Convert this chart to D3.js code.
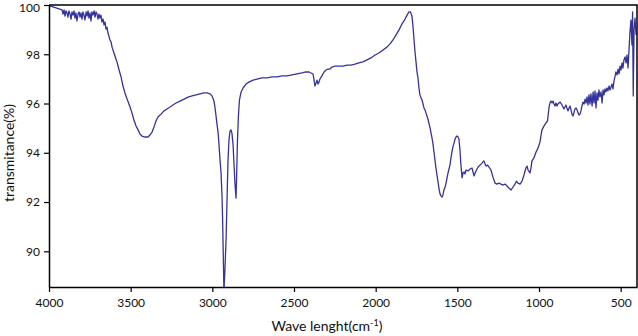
<!DOCTYPE html>
<html>
<head>
<meta charset="utf-8">
<script src="https://cdn.jsdelivr.net/npm/d3@7"></script>
<style>
  body { margin: 0; background: #fff; }
  text { font-family: Lato, "Liberation Sans", sans-serif; }
</style>
</head>
<body>
<script>
// wavenumber (cm-1)
var wavenumber = [
  3994,3976,3957,3939,3920,3914,3908,3902,3896,3890,3884,3878,3871,3865,3859,3853,3847,3841,3835,3829,
  3822,3816,3810,3804,3798,3792,3786,3780,3773,3767,3761,3755,3749,3743,3737,3731,3724,3718,3712,3706,
  3700,3694,3688,3682,3676,3669,3663,3657,3651,3645,3639,3633,3627,3620,3614,3602,3590,3584,3571,3559,
  3547,3535,3522,3504,3492,3480,3467,3455,3443,3431,3412,3394,3382,3369,3357,3345,3333,3314,3296,3278,
  3259,3241,3222,3198,3173,3149,3124,3100,3076,3051,3033,3014,3002,2990,2984,2978,2971,2965,2959,2953,
  2947,2941,2937,2933,2929,2923,2916,2910,2904,2898,2892,2886,2880,2873,2867,2861,2855,2851,2846,2840,
  2834,2824,2812,2794,2776,2751,2727,2696,2665,2635,2604,2573,2543,2512,2482,2451,2427,2408,2396,2384,
  2378,2372,2365,2359,2353,2347,2341,2329,2316,2304,2292,2280,2267,2249,2224,2200,2176,2151,2127,2102,
  2078,2053,2029,2004,1980,1955,1931,1912,1894,1876,1857,1839,1820,1808,1796,1787,1778,1772,1765,1759,
  1753,1747,1741,1735,1729,1722,1716,1710,1704,1698,1692,1686,1680,1674,1667,1661,1655,1649,1643,1637,
  1631,1625,1618,1612,1606,1600,1594,1588,1582,1575,1569,1563,1557,1551,1545,1539,1533,1527,1520,1514,
  1508,1502,1496,1490,1484,1478,1471,1465,1459,1453,1447,1435,1422,1410,1404,1398,1386,1373,1361,1349,
  1337,1330,1324,1315,1306,1294,1282,1269,1257,1245,1233,1220,1208,1196,1184,1171,1159,1147,1138,1129,
  1116,1104,1092,1080,1073,1067,1055,1049,1043,1031,1018,1006,994,982,969,957,948,939,933,927,
  920,914,908,902,896,890,884,871,859,853,847,841,835,829,822,816,810,804,798,792,
  786,780,773,767,761,755,749,743,737,731,724,718,712,706,700,694,688,682,675,669,
  663,657,651,645,639,633,627,620,614,608,602,596,590,584,578,571,565,559,553,547,
  541,535,529,522,516,510,504,498,492,486,480,473,467,461,455,449,443,437,431,427,
  423,418,412,406
];

// transmittance (%) at each wavenumber
var transmittance = [
  99.96,99.92,99.88,99.84,99.80,99.63,99.80,99.55,99.76,99.68,99.51,99.76,99.63,99.43,99.72,99.59,99.76,99.47,99.68,99.35,
  99.63,99.72,99.51,99.68,99.43,99.72,99.59,99.39,99.72,99.55,99.76,99.47,99.68,99.35,99.72,99.59,99.76,99.51,99.72,99.63,
  99.43,99.63,99.47,99.59,99.31,99.43,99.19,99.31,99.02,99.10,98.86,98.74,98.58,98.50,98.29,98.05,97.81,97.69,97.36,97.08,
  96.71,96.43,96.18,95.86,95.62,95.33,95.09,94.93,94.76,94.68,94.64,94.64,94.72,94.84,95.05,95.29,95.45,95.57,95.70,95.78,
  95.86,95.94,96.02,96.10,96.18,96.26,96.31,96.35,96.39,96.43,96.43,96.39,96.31,96.10,95.86,95.53,95.13,94.84,94.32,93.71,
  93.22,92.29,91.27,89.85,88.40,89.24,90.46,92.08,93.71,94.52,94.88,94.93,94.80,94.32,93.50,92.69,92.16,93.10,94.52,95.53,
  96.14,96.47,96.63,96.79,96.87,96.95,96.99,97.04,97.04,97.08,97.08,97.12,97.12,97.16,97.20,97.24,97.28,97.28,97.24,97.20,
  97.00,96.71,96.83,96.95,96.79,96.87,97.00,97.12,97.28,97.36,97.40,97.40,97.48,97.52,97.52,97.52,97.56,97.56,97.60,97.65,
  97.69,97.77,97.85,97.97,98.05,98.17,98.29,98.42,98.58,98.78,98.99,99.23,99.43,99.59,99.72,99.72,99.55,99.19,98.58,98.09,
  97.69,97.28,97.04,96.63,96.35,96.22,96.14,95.98,95.82,95.74,95.62,95.49,95.37,95.21,95.01,94.80,94.60,94.36,94.03,93.71,
  93.38,93.10,92.81,92.53,92.33,92.25,92.20,92.29,92.49,92.61,92.77,92.98,93.18,93.34,93.50,93.79,94.03,94.24,94.40,94.56,
  94.64,94.68,94.64,94.56,94.11,93.50,92.98,93.18,93.22,93.14,93.30,93.26,93.34,93.38,93.22,93.06,93.26,93.42,93.50,93.58,
  93.67,93.54,93.46,93.50,93.42,93.30,93.01,92.77,92.73,92.77,92.73,92.69,92.73,92.65,92.57,92.49,92.61,92.73,92.85,92.77,
  92.73,92.85,93.10,93.38,93.46,93.30,93.18,93.38,93.67,93.79,94.03,94.19,94.44,94.93,95.09,95.21,95.29,95.82,96.02,96.10,
  96.02,96.10,95.98,95.90,96.02,95.90,95.98,96.06,95.94,95.86,95.78,95.86,95.94,95.82,95.70,95.82,95.90,95.74,95.57,95.49,
  95.62,95.78,95.82,95.74,95.62,95.53,95.57,95.70,95.90,96.06,95.98,96.18,96.02,96.27,95.94,96.35,95.98,96.39,95.90,96.47,
  96.02,96.51,95.82,96.43,96.14,96.55,96.27,96.47,96.02,96.55,96.35,96.59,96.47,96.63,96.51,96.71,96.55,96.67,96.79,96.59,
  96.91,97.08,97.28,97.16,97.40,97.20,97.52,97.36,97.65,97.44,97.77,97.89,97.65,97.97,97.44,98.17,98.90,99.39,98.38,99.72,
  96.31,98.99,99.47,98.78
];

var xTicks = [4000, 3500, 3000, 2500, 2000, 1500, 1000, 500];
var yTicks = [90, 92, 94, 96, 98, 100];

var w = 638;
var h = 336;
var padLeft = 49, padRight = 637, padTop = 5, padBottom = 287;

var data = wavenumber.map(function(d, i) { return { wn: d, t: transmittance[i] }; });

var xScale = d3.scaleLinear().domain([4000, 400]).range([padLeft, padRight]);
var yScale = d3.scaleLinear().domain([88.55, 100]).range([padBottom, padTop]);

var svg = d3.select("body")
  .append("svg")
  .attr("width", w)
  .attr("height", h);

svg.append("clipPath")
  .attr("id", "plot-clip")
  .append("rect")
  .attr("x", padLeft)
  .attr("y", padTop)
  .attr("width", padRight - padLeft)
  .attr("height", padBottom - padTop);

var line = d3.line()
  .x(function(d) { return xScale(d.wn); })
  .y(function(d) { return yScale(d.t); });

svg.append("path")
  .datum(data)
  .attr("clip-path", "url(#plot-clip)")
  .attr("fill", "none")
  .attr("stroke", "#35339b")
  .attr("stroke-width", 1.3)
  .attr("stroke-linejoin", "round")
  .attr("d", line);

// frame top / right
svg.append("path")
  .attr("d", "M" + padLeft + "," + padTop + "H" + padRight + "V" + padBottom)
  .attr("fill", "none")
  .attr("stroke", "#000")
  .attr("stroke-width", 1.5);

var xAxis = d3.axisBottom(xScale).tickValues(xTicks).tickFormat(d3.format("d"))
  .tickSize(5).tickSizeOuter(0).tickPadding(6);
var yAxis = d3.axisLeft(yScale).tickValues(yTicks).tickFormat(d3.format("d"))
  .tickSize(5).tickSizeOuter(0).tickPadding(4);

var gx = svg.append("g")
  .attr("transform", "translate(0," + padBottom + ")")
  .call(xAxis);

var gy = svg.append("g")
  .attr("transform", "translate(" + padLeft + ",0)")
  .call(yAxis);

[gx, gy].forEach(function(g) {
  g.select(".domain").attr("stroke-width", 1.5);
  g.selectAll(".tick line").attr("stroke-width", 1.2);
  g.selectAll("text").attr("font-size", 12).attr("fill", "#111")
    .style("font-family", "Lato, 'Liberation Sans', sans-serif");
});

// keep the top label inside the page
gy.selectAll(".tick text").filter(function(d) { return d === 100; })
  .attr("dy", "0.5em");

// axis titles
var xTitle = svg.append("text")
  .attr("x", 327)
  .attr("y", 331)
  .attr("text-anchor", "middle")
  .attr("font-size", 14)
  .attr("fill", "#111");
xTitle.append("tspan").text("Wave lenght(cm");
xTitle.append("tspan").attr("dy", -5).attr("font-size", 9).text("-1");
xTitle.append("tspan").attr("dy", 5).text(")");

svg.append("text")
  .attr("transform", "translate(14,153) rotate(-90)")
  .attr("text-anchor", "middle")
  .attr("font-size", 14)
  .attr("fill", "#111")
  .text("transmitance(%)");
</script>
</body>
</html>
